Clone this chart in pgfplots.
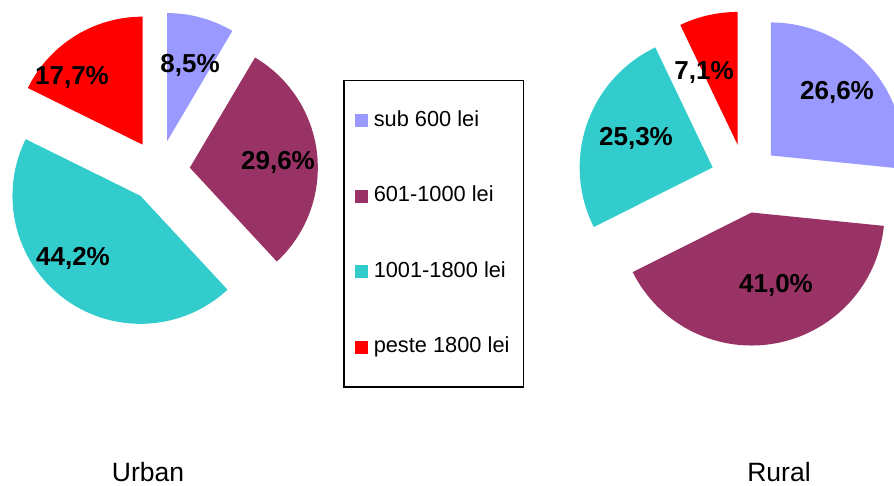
\documentclass[border=0pt]{standalone}
\usepackage{pgfplots}
\pgfplotsset{compat=1.18}
\usepackage{fontspec}
\setmainfont{Liberation Sans}
\definecolor{lav}{HTML}{9999FF}
\definecolor{plum}{HTML}{993366}
\definecolor{tealc}{HTML}{33CCCC}
\definecolor{redc}{HTML}{FF0000}
% #1 cx, #2 cy, #3 radius, #4 explode, #5 start angle, #6 percent, #7 colour
\newcommand{\pieslice}[7]{%
  \pgfmathsetmacro\sa{#5}%
  \pgfmathsetmacro\sb{#5-3.6*#6}%
  \pgfmathsetmacro\sm{(\sa+\sb)/2}%
  \pgfmathsetmacro\ex{#1+#4*cos(\sm)}%
  \pgfmathsetmacro\ey{#2+#4*sin(\sm)}%
  \edef\doslice{\noexpand\addplot[fill=#7, draw=none, mark=none, forget plot,
     domain=\sb:\sa, samples=80, variable=\noexpand\t]
     ({\ex+#3*cos(\noexpand\t)},{\ey+#3*sin(\noexpand\t)}) -- (axis cs:\ex,\ey) -- cycle;}%
  \doslice
}
\newcommand{\labfont}{\fontsize{26bp}{30bp}\selectfont\bfseries}
\begin{document}
\begin{tikzpicture}
\useasboundingbox (0,0) rectangle (894bp,486bp);
\begin{axis}[
  at={(0,0)}, anchor=south west,
  scale only axis, width=894bp, height=486bp,
  xmin=0, xmax=894, ymin=0, ymax=486,
  hide axis,
  legend image code/.code={\fill[#1] (0bp,-6.5bp) rectangle (13bp,6.5bp); \path (16bp,0bp);},
  legend style={at={(axis cs:343,406)}, anchor=north west, draw=black,
    line width=1.5bp, fill=white,
    font=\fontsize{21.8bp}{26bp}\selectfont,
    inner xsep=11bp, inner ysep=29.5bp, row sep=54.5bp,
    nodes={inner xsep=3bp, inner ysep=0pt, text height=16bp, text depth=5bp}},
  legend cell align=left,
]
\addlegendimage{fill=lav, draw=none}
\addlegendimage{fill=plum, draw=none}
\addlegendimage{fill=tealc, draw=none}
\addlegendimage{fill=redc, draw=none}
\legend{sub 600 lei, 601-1000 lei, 1001-1800 lei, peste 1800 lei}
% Urban: 8.5, 29.6, 44.2, 17.7 (clockwise from 12 o'clock)
\pieslice{159}{315}{128}{31}{90}{8.5}{lav}
\pieslice{159}{315}{128}{31}{59.4}{29.6}{plum}
\pieslice{159}{315}{128}{31}{-47.16}{44.2}{tealc}
\pieslice{159}{315}{128}{31}{-206.28}{17.7}{redc}
% Rural: 26.6, 41.0, 25.3, 7.1
\pieslice{745.3}{307.4}{133}{34.5}{90}{26.6}{lav}
\pieslice{745.3}{307.4}{133}{34.5}{-5.76}{41.0}{plum}
\pieslice{745.3}{307.4}{133}{34.5}{-153.36}{25.3}{tealc}
\pieslice{745.3}{307.4}{133}{34.5}{-244.44}{7.1}{redc}
% labels
\node[font=\labfont] at (axis cs:190,421) {8,5\%};
\node[font=\labfont] at (axis cs:72,409) {17,7\%};
\node[font=\labfont] at (axis cs:278,324) {29,6\%};
\node[font=\labfont] at (axis cs:73,228) {44,2\%};
\node[font=\labfont] at (axis cs:704,414) {7,1\%};
\node[font=\labfont] at (axis cs:837,394) {26,6\%};
\node[font=\labfont] at (axis cs:636,348) {25,3\%};
\node[font=\labfont] at (axis cs:776,201) {41,0\%};
\node[font=\fontsize{26.5bp}{30bp}\selectfont, anchor=base] at (axis cs:148,4.5) {Urban};
\node[font=\fontsize{26.5bp}{30bp}\selectfont, anchor=base] at (axis cs:779,4.5) {Rural};
\end{axis}
\end{tikzpicture}
\end{document}
